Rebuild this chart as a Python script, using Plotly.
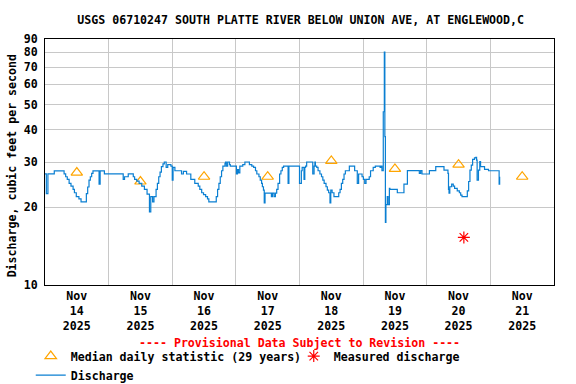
import pandas as pd
import plotly.graph_objects as go

START = pd.Timestamp("2025-11-14 00:00")

# Discharge (cfs): hours since Nov 14 00:00 and value
q_hours = [0.0, 0.5, 1.1, 3.5, 7.2, 7.8, 8.4, 9.1, 9.8, 10.6, 11.1, 11.8, 12.8, 13.6, 15.6, 16.1, 16.6, 17.1, 17.6, 18.1,
           20.4, 20.8, 22.4, 29.5, 30.0, 31.4, 33.3, 33.8, 34.6, 35.5, 36.5, 37.5, 38.5, 39.4, 39.9, 40.6, 41.1, 41.9,
           42.4, 42.9, 43.4, 43.9, 44.5, 45.0, 45.7, 46.3, 47.5, 48.0, 48.3, 49.0, 51.5, 52.2, 53.4, 55.0, 56.5, 57.8,
           58.4, 59.1, 59.8, 60.6, 61.3, 61.8, 64.6, 65.1, 65.6, 66.1, 66.6, 67.1, 67.9, 68.1, 68.4, 68.9, 69.6, 69.9,
           72.2, 72.6, 73.0, 73.5, 74.6, 75.4, 77.1, 78.0, 78.7, 79.4, 79.9, 80.7, 81.2, 81.7, 82.0, 82.4, 82.7, 83.0,
           85.4, 85.8, 86.4, 86.9, 87.4, 87.9, 88.5, 89.0, 89.5, 90.0, 91.7, 92.0, 96.0, 96.7, 97.0, 97.7, 98.0, 98.3,
           98.7, 101.0, 101.5, 101.8, 102.0, 102.5, 103.0, 103.7, 104.3, 104.8, 105.3, 106.0, 106.5, 107.0, 107.5,
           107.8, 108.3, 109.0, 110.8, 111.3, 111.8, 112.3, 112.8, 113.3, 114.8, 116.8, 117.8, 118.3, 119.6, 120.1,
           120.6, 121.1, 122.3, 122.8, 123.8, 124.6, 126.4, 126.7, 127.1, 127.6, 128.0, 128.2, 128.4, 128.6, 129.1,
           129.4, 129.9, 130.1, 132.9, 135.4, 136.7, 141.2, 141.7, 142.2, 145.0, 147.4, 150.5, 152.0, 152.2, 152.4,
           152.7, 153.4, 154.0, 154.5, 155.5, 156.3, 156.8, 157.3, 159.3, 159.8, 160.3, 160.8, 161.3, 162.0, 162.5,
           162.8, 163.0, 163.5, 164.0, 164.3, 165.8, 167.3, 171.3, 171.5]
q_values = [27.0, 22.6, 27.0, 27.7, 27.0, 26.3, 25.7, 24.8, 24.2, 23.5, 22.8, 22.0, 21.6, 21.0, 22.6, 24.0, 25.5, 26.3, 27.1, 27.7,
            24.6, 27.7, 27.0, 25.7, 26.3, 27.0, 26.3, 25.7, 25.3, 24.8, 24.2, 23.5, 22.5, 19.2, 22.0, 21.0, 22.0, 23.5,
            24.8, 26.3, 27.4, 28.8, 29.5, 30.0, 28.6, 29.3, 28.9, 25.5, 28.6, 27.75, 26.95, 27.6, 26.95, 25.7, 24.8, 24.2,
            23.5, 22.8, 22.4, 22.0, 21.6, 21.0, 22.0, 23.5, 24.8, 26.3, 27.75, 28.9, 29.65, 30.0, 28.9, 30.0, 29.3, 28.9,
            26.95, 28.0, 27.2, 28.9, 29.3, 30.0, 29.3, 28.9, 28.6, 27.75, 26.95, 26.3, 25.5, 24.8, 24.05, 23.35, 20.8, 22.7,
            22.0, 22.7, 22.0, 22.7, 23.5, 24.8, 26.95, 27.75, 28.6, 28.9, 24.8, 28.9, 24.8, 27.75, 28.6, 25.7, 28.6, 28.9,
            30.0, 26.95, 28.9, 30.0, 28.9, 28.6, 27.75, 26.95, 26.3, 25.5, 24.8, 24.05, 23.35, 22.8, 20.8,
            23.35, 22.8, 22.0, 22.8, 23.5, 24.8, 25.7, 26.95, 27.75, 28.9, 27.75, 24.8, 26.95, 26.3, 25.7,
            24.8, 25.7, 26.3, 27.75, 28.6, 28.9, 28.6, 28.9, 27.75, 47.0, 80.0, 37.6, 17.5, 20.5, 22.0,
            20.5, 23.7, 23.5, 22.8, 24.6, 27.8, 27.1, 27.8, 26.95, 27.8, 28.8, 27.9, 27.1, 23.5, 22.7,
            24.05, 24.6, 24.2, 23.7, 23.2, 22.8, 22.3, 22.0, 23.2, 25.2, 27.9, 29.2, 30.7, 31.1, 31.3,
            30.5, 25.5, 27.9, 30.1, 28.8, 28.1, 27.75, 24.6, 26.3]

# Median daily statistic (29 years), plotted at noon of each day
median_days = ["2025-11-14", "2025-11-15", "2025-11-16", "2025-11-17",
               "2025-11-18", "2025-11-19", "2025-11-20", "2025-11-21"]
median_values = [27.3, 25.2, 26.3, 26.3, 30.3, 28.2, 29.3, 26.3]

# Measured discharge
measured_time = ["2025-11-20 14:00"]
measured_value = [15.3]

# Axis ticks
x_tick_text = ["Nov<br>14<br>2025", "Nov<br>15<br>2025", "Nov<br>16<br>2025", "Nov<br>17<br>2025",
               "Nov<br>18<br>2025", "Nov<br>19<br>2025", "Nov<br>20<br>2025", "Nov<br>21<br>2025"]
x_grid_days = ["2025-11-15", "2025-11-16", "2025-11-17", "2025-11-18",
               "2025-11-19", "2025-11-20", "2025-11-21"]
y_ticks = [10, 20, 30, 40, 50, 60, 70, 80, 90]

FONT = "DejaVu Sans Mono"
FS = 11.6
BOLD = dict(family=FONT, size=FS, color="black", weight="bold")

q_times = START + pd.to_timedelta(q_hours, unit="h")
noon = pd.to_datetime(median_days) + pd.Timedelta(hours=12)

fig = go.Figure()
fig.add_trace(go.Scatter(
    x=noon, y=median_values, mode="markers", name="Median daily statistic (29 years)",
    marker=dict(symbol="triangle-up-open", size=10, color="#FFA500", line=dict(width=1.2, color="#FFA500")),
))
fig.add_trace(go.Scatter(
    x=pd.to_datetime(measured_time), y=measured_value, mode="markers", name="Measured discharge",
    marker=dict(symbol="asterisk-open", size=10, color="#FF0000", line=dict(width=1.2, color="#FF0000")),
))
fig.add_trace(go.Scatter(
    x=q_times, y=q_values, mode="lines", name="Discharge",
    line=dict(color="#0A7FD2", width=1.2, shape="hv"),
))

fig.update_layout(
    width=576, height=384,
    margin=dict(l=45, r=22, t=39, b=99, autoexpand=False),
    paper_bgcolor="white", plot_bgcolor="white",
    font=BOLD,
    title=dict(text="USGS 06710247 SOUTH PLATTE RIVER BELOW UNION AVE, AT ENGLEWOOD,C",
               x=0.522, xanchor="center", y=0.948, yanchor="middle", font=BOLD),
    showlegend=True,
    legend=dict(orientation="h", x=-0.028, xanchor="left",
                y=-0.230, yanchor="top",
                entrywidth=218, entrywidthmode="pixels", tracegroupgap=0,
                font=BOLD, bgcolor="rgba(0,0,0,0)"),
)

fig.update_xaxes(
    type="date", automargin=False,
    range=[START, START + pd.Timedelta(days=8)],
    tickmode="array", tickvals=noon, ticktext=x_tick_text,
    ticks="", showgrid=False,
    minor=dict(tickmode="array", tickvals=pd.to_datetime(x_grid_days), showgrid=True,
               gridcolor="#C8C8C8", gridwidth=1, ticks=""),
    showline=True, linecolor="black", linewidth=1, mirror=True,
    tickfont=BOLD, zeroline=False,
)
fig.update_yaxes(
    type="log", automargin=False, range=[1, 1.9542425],
    tickmode="array", tickvals=y_ticks, ticktext=[str(v) for v in y_ticks],
    ticks="", ticklabelstandoff=4, showgrid=True, gridcolor="#C8C8C8", gridwidth=1,
    showline=True, linecolor="black", linewidth=1, mirror=True,
    tickfont=BOLD, zeroline=False,
)

fig.add_annotation(
    text="Discharge, cubic feet per second", textangle=-90,
    xref="paper", yref="paper", x=-0.064, y=0.484, xanchor="center", yanchor="middle",
    showarrow=False, font=BOLD,
)
fig.add_annotation(
    text="---- Provisional Data Subject to Revision ----",
    xref="paper", yref="paper", x=0.5, y=-0.236, xanchor="center", yanchor="middle",
    showarrow=False, font=dict(family=FONT, size=FS, color="#FF0000", weight="bold"),
)

fig.write_html("out.html", config={"displayModeBar": False},
               post_script="document.body.style.margin='0';")
